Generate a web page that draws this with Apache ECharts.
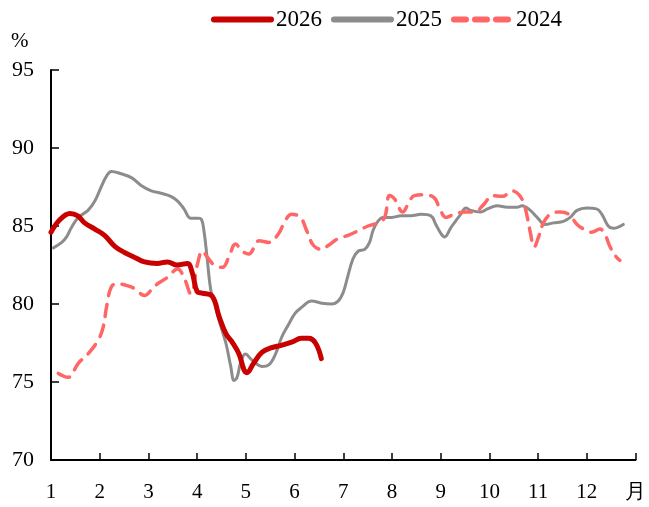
<!DOCTYPE html>
<html>
<head>
<meta charset="utf-8">
<script src="https://cdn.jsdelivr.net/npm/echarts@6/dist/echarts.min.js"></script>
<style>
  html, body { margin: 0; padding: 0; background: #fff; }
  #chart { width: 649px; height: 507px; }
</style>
</head>
<body>
<div id="chart"></div>
<script>
// 月份位置（1 = 1月初）和数值
const month2026 = [1.00, 1.18, 1.39, 1.55, 1.69, 1.90, 2.10, 2.31, 2.51, 2.71, 2.92, 3.18, 3.39, 3.59, 3.80, 3.90, 4.00, 4.10, 4.31, 4.45, 4.59, 4.71, 4.86, 4.96, 5.02, 5.16, 5.33, 5.53, 5.73, 5.94, 6.14, 6.29, 6.43, 6.55];
const value2026 = [84.6, 85.4, 85.8, 85.65, 85.2, 84.8, 84.4, 83.7, 83.3, 83.0, 82.7, 82.6, 82.7, 82.5, 82.6, 82.0, 80.8, 80.7, 80.5, 79.2, 78.1, 77.6, 76.8, 75.8, 75.6, 76.2, 76.9, 77.2, 77.35, 77.55, 77.8, 77.8, 77.5, 76.5];

const month2025 = [1.05, 1.22, 1.32, 1.42, 1.56, 1.76, 1.90, 2.03, 2.14, 2.24, 2.44, 2.65, 2.85, 3.06, 3.26, 3.46, 3.60, 3.73, 3.87, 4.01, 4.08, 4.14, 4.21, 4.28, 4.35, 4.45, 4.59, 4.69, 4.76, 4.82, 4.89, 4.99, 5.13, 5.33, 5.47, 5.61, 5.74, 5.88, 6.01, 6.15, 6.35, 6.56, 6.76, 6.90, 7.00, 7.07, 7.20, 7.31, 7.44, 7.54, 7.61, 7.71, 7.82, 7.99, 8.19, 8.39, 8.60, 8.80, 8.90, 9.01, 9.08, 9.21, 9.41, 9.52, 9.62, 9.82, 9.96, 10.16, 10.37, 10.57, 10.67, 10.84, 10.98, 11.15, 11.32, 11.52, 11.66, 11.80, 12.00, 12.20, 12.31, 12.44, 12.54, 12.75];
const value2025 = [83.6, 83.95, 84.3, 84.9, 85.55, 86.0, 86.6, 87.5, 88.2, 88.5, 88.35, 88.1, 87.6, 87.25, 87.1, 86.9, 86.6, 86.1, 85.5, 85.5, 85.45, 84.7, 82.8, 80.9, 80.2, 78.95, 77.5, 76.0, 75.1, 75.3, 76.2, 76.8, 76.4, 76.0, 76.1, 76.8, 77.9, 78.7, 79.4, 79.8, 80.2, 80.05, 80.0, 80.2, 80.75, 81.5, 82.9, 83.4, 83.5, 83.95, 84.7, 85.3, 85.55, 85.55, 85.65, 85.65, 85.75, 85.65, 85.1, 84.5, 84.3, 84.9, 85.75, 86.15, 86.0, 85.9, 86.1, 86.3, 86.2, 86.2, 86.3, 86.0, 85.55, 85.1, 85.2, 85.3, 85.55, 86.0, 86.15, 86.1, 85.75, 85.0, 84.85, 85.1];

const month2024 = [1.15, 1.35, 1.56, 1.76, 1.97, 2.07, 2.14, 2.24, 2.37, 2.54, 2.71, 2.92, 3.06, 3.19, 3.39, 3.60, 3.73, 3.87, 4.01, 4.11, 4.21, 4.35, 4.52, 4.65, 4.79, 4.92, 5.06, 5.27, 5.47, 5.67, 5.81, 5.94, 6.12, 6.25, 6.39, 6.56, 6.69, 6.90, 7.10, 7.31, 7.51, 7.71, 7.85, 7.95, 8.06, 8.12, 8.22, 8.33, 8.46, 8.67, 8.87, 8.97, 9.11, 9.28, 9.48, 9.69, 9.89, 10.06, 10.27, 10.47, 10.61, 10.71, 10.78, 10.84, 10.92, 11.01, 11.11, 11.25, 11.45, 11.63, 11.80, 11.94, 12.10, 12.27, 12.38, 12.48, 12.61, 12.68];
const value2024 = [75.55, 75.3, 76.2, 76.8, 77.7, 78.5, 79.8, 81.1, 81.3, 81.2, 81.0, 80.55, 80.9, 81.3, 81.7, 82.25, 81.7, 80.65, 82.6, 83.4, 83.0, 82.5, 82.35, 83.0, 83.85, 83.4, 83.2, 84.05, 83.95, 84.5, 85.35, 85.75, 85.55, 84.7, 83.75, 83.5, 83.75, 84.2, 84.4, 84.7, 85.0, 85.2, 85.55, 86.95, 86.7, 86.3, 85.9, 86.4, 86.95, 87.0, 86.8, 86.2, 85.55, 85.75, 85.9, 85.9, 86.4, 86.95, 86.9, 87.25, 87.0, 86.4, 85.55, 84.6, 83.65, 84.3, 85.2, 85.75, 85.9, 85.75, 85.1, 84.8, 84.6, 84.8, 84.4, 83.65, 83.0, 82.8];

const monthLabels = ['1', '2', '3', '4', '5', '6', '7', '8', '9', '10', '11', '12', '月'];

const zip = (xs, ys) => xs.map((x, i) => [x, ys[i]]);

const font = '"Liberation Serif", "Times New Roman", serif';
const myChart = echarts.init(document.getElementById('chart'));
const option = {
    animation: false,
    textStyle: { fontFamily: font },
    legend: {
        left: 206,
        top: 3,
        itemWidth: 57,
        itemHeight: 12,
        itemGap: 9,
        itemStyle: { opacity: 0 },
        lineStyle: { width: 6, cap: 'round' },
        textStyle: { fontFamily: font, fontSize: 23, color: '#000' },
        data: ['2026', '2025', '2024']
    },
    graphic: [{
        type: 'text',
        left: 11,
        top: 31,
        style: { text: '%', font: '21px ' + font, fill: '#000' }
    }],
    grid: { left: 51, right: 10, top: 70, bottom: 47 },
    xAxis: {
        type: 'value',
        min: 1,
        max: 13,
        interval: 1,
        axisLine: { lineStyle: { color: '#000', width: 2 } },
        axisTick: { inside: true, length: 7, lineStyle: { color: '#000', width: 1.5 } },
        splitLine: { show: false },
        axisLabel: {
            margin: 22,
            fontFamily: font,
            fontSize: 21,
            color: '#000',
            formatter: v => monthLabels[v - 1]
        }
    },
    yAxis: {
        type: 'value',
        min: 70,
        max: 95,
        interval: 5,
        axisLine: { show: true, lineStyle: { color: '#000', width: 2 } },
        axisTick: { show: true, inside: true, length: 8, lineStyle: { color: '#000', width: 1.5 } },
        splitLine: { show: false },
        axisLabel: { margin: 17, fontFamily: font, fontSize: 22, color: '#000' }
    },
    series: [
        {
            name: '2026',
            type: 'line',
            smooth: 0.4,
            symbol: 'none',
            z: 5,
            itemStyle: { color: '#C80000' },
            lineStyle: { color: '#C80000', width: 5, cap: 'round' },
            data: zip(month2026, value2026)
        },
        {
            name: '2025',
            type: 'line',
            smooth: 0.4,
            symbol: 'none',
            z: 3,
            itemStyle: { color: '#8C8C8C' },
            lineStyle: { color: '#8C8C8C', width: 3, cap: 'round' },
            data: zip(month2025, value2025)
        },
        {
            name: '2024',
            type: 'line',
            smooth: 0.4,
            symbol: 'none',
            z: 4,
            itemStyle: { color: '#FF6666' },
            lineStyle: { color: '#FF6666', width: 3.5, type: [12, 9], cap: 'round' },
            data: zip(month2024, value2024)
        }
    ]
};
option && myChart.setOption(option);
</script>
</body>
</html>
